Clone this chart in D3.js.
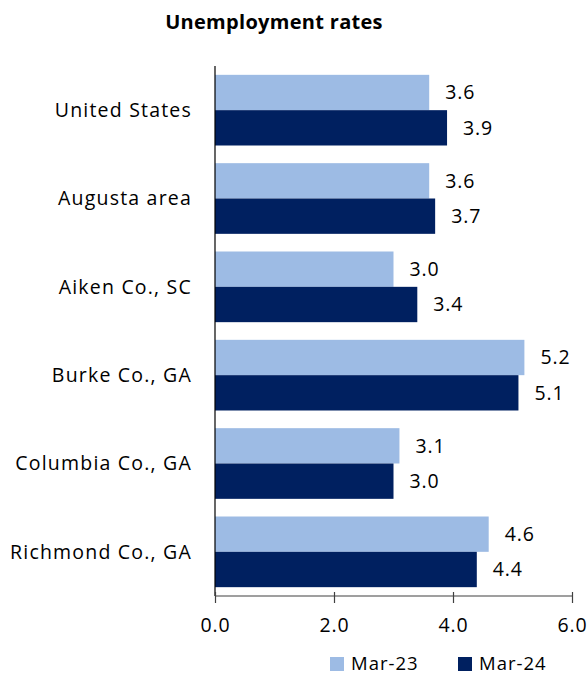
<!DOCTYPE html>
<html>
<head>
<meta charset="utf-8">
<script src="https://cdn.jsdelivr.net/npm/d3@7"></script>
<style>
  body { margin: 0; background: #fff; }
  text { font-family: "Open Sans", Lato, sans-serif; fill: #000; }
</style>
</head>
<body>
<div id="root"></div>
<script>
var areas = ["United States", "Augusta area", "Aiken Co., SC", "Burke Co., GA", "Columbia Co., GA", "Richmond Co., GA"];
var mar23 = [3.6, 3.6, 3.0, 5.2, 3.1, 4.6];
var mar24 = [3.9, 3.7, 3.4, 5.1, 3.0, 4.4];
var seriesNames = ["Mar-23", "Mar-24"];
var colors = ["#9dbbe4", "#002060"];
var ticks = [0, 2, 4, 6];

var width = 587, height = 677;
var fs = 19.5, ls = "1.2px";

var svg = d3.select("#root")
    .append("svg")
    .attr("width", width)
    .attr("height", height);

var x = d3.scaleLinear().domain([0, 6]).range([215, 572]);
var y = d3.scaleBand().domain(areas).range([66, 596]).paddingInner(0.2).paddingOuter(0.1);
var inner = d3.scaleBand().domain([0, 1]).range([0, y.bandwidth()]);

// title
svg.append("text")
    .attr("x", 274)
    .attr("y", 29)
    .attr("text-anchor", "middle")
    .attr("font-weight", "bold")
    .attr("font-size", 20)
    .attr("letter-spacing", "0.3px")
    .text("Unemployment rates");

var rows = areas.map(function (a, i) {
    return [mar23[i], mar24[i]];
});

var g = svg.selectAll("g.row")
    .data(rows)
    .enter()
    .append("g")
    .attr("class", "row")
    .attr("transform", function (d, i) { return "translate(0," + y(areas[i]) + ")"; });

g.selectAll("rect")
    .data(function (d) { return d; })
    .enter()
    .append("rect")
    .attr("x", x(0))
    .attr("y", function (d, j) { return inner(j); })
    .attr("width", function (d) { return x(d) - x(0); })
    .attr("height", inner.bandwidth())
    .attr("fill", function (d, j) { return colors[j]; });

g.selectAll("text.val")
    .data(function (d) { return d; })
    .enter()
    .append("text")
    .attr("class", "val")
    .attr("x", function (d) { return x(d) + 16; })
    .attr("y", function (d, j) { return inner(j) + inner.bandwidth() / 2; })
    .attr("dy", "0.35em")
    .attr("font-size", fs)
    .attr("letter-spacing", "0.9px")
    .text(function (d) { return d.toFixed(1); });

// category labels
svg.selectAll("text.cat")
    .data(areas)
    .enter()
    .append("text")
    .attr("class", "cat")
    .attr("x", 192)
    .attr("y", function (d) { return y(d) + y.bandwidth() / 2; })
    .attr("dy", "0.35em")
    .attr("text-anchor", "end")
    .attr("font-size", fs)
    .attr("letter-spacing", ls)
    .text(function (d) { return d; });

// axes
svg.append("line")
    .attr("x1", x(0)).attr("x2", x(0))
    .attr("y1", 66).attr("y2", 596)
    .attr("stroke", "#000").attr("stroke-width", 1.2);

var xAxis = svg.append("g")
    .attr("transform", "translate(0,596)")
    .call(d3.axisBottom(x).tickValues(ticks).tickSize(7).tickPadding(15).tickFormat(d3.format(".1f")));
xAxis.select(".domain").attr("stroke", "#404040").attr("stroke-width", 1.2)
    .attr("d", "M" + x(0) + ",0H" + x(6));
xAxis.selectAll(".tick line").attr("stroke", "#404040").attr("stroke-width", 1.2).attr("y1", -4);
xAxis.selectAll(".tick text").attr("font-size", fs).attr("letter-spacing", "0.9px")
    .attr("font-family", "'Open Sans', sans-serif").attr("fill", "#000");

// legend
var legendX = [330, 458];
var leg = svg.selectAll("g.leg")
    .data(seriesNames)
    .enter()
    .append("g")
    .attr("class", "leg")
    .attr("transform", function (d, i) { return "translate(" + legendX[i] + ",657)"; });
leg.append("rect")
    .attr("width", 14).attr("height", 14)
    .attr("fill", function (d, i) { return colors[i]; });
leg.append("text")
    .attr("x", 21).attr("y", 7).attr("dy", "0.35em")
    .attr("font-size", 18.5)
    .attr("letter-spacing", "1px")
    .text(function (d) { return d; });
</script>
</body>
</html>
